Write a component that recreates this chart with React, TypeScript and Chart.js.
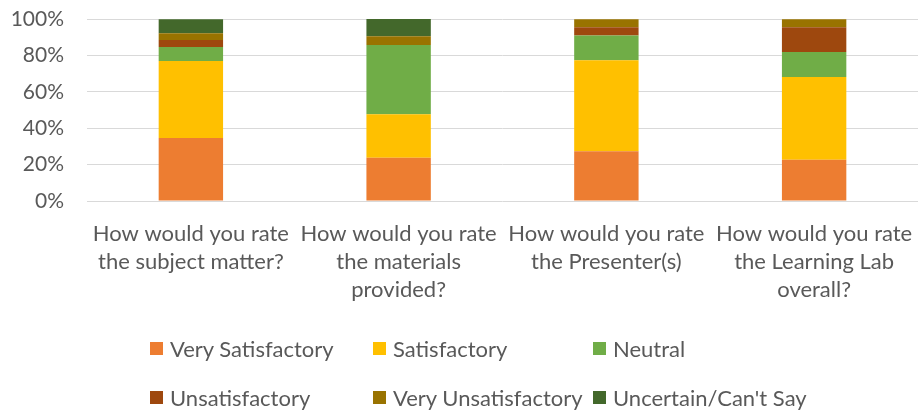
import React, { useEffect, useRef } from "react";
import { Chart, registerables } from "chart.js";

Chart.register(...registerables);

const categories: string[][] = [
  ["How would you rate", "the subject matter?"],
  ["How would you rate", "the materials", "provided?"],
  ["How would you rate", "the Presenter(s)"],
  ["How would you rate", "the Learning Lab", "overall?"],
];

const verySatisfactory = [34.6, 23.8, 27.3, 22.7];
const satisfactory = [42.3, 23.8, 50.0, 45.5];
const neutral = [7.7, 38.1, 13.6, 13.6];
const unsatisfactory = [3.8, 0, 4.5, 13.6];
const veryUnsatisfactory = [3.8, 4.8, 4.5, 4.5];
const uncertain = [7.7, 9.5, 0, 0];

const seriesNames = [
  "Very Satisfactory",
  "Satisfactory",
  "Neutral",
  "Unsatisfactory",
  "Very Unsatisfactory",
  "Uncertain/Can't Say",
];
const seriesColors = ["#ED7D31", "#FFC000", "#70AD47", "#9E480E", "#997300", "#43682B"];
const seriesValues = [verySatisfactory, satisfactory, neutral, unsatisfactory, veryUnsatisfactory, uncertain];

const yTicks = [0, 20, 40, 60, 80, 100];

const FONT = "Lato, 'Liberation Sans', sans-serif";
const TEXT = "#595959";

export default function App() {
  const ref = useRef<HTMLCanvasElement | null>(null);

  useEffect(() => {
    if (!ref.current) return;
    const chart = new Chart(ref.current, {
      type: "bar",
      data: {
        labels: categories as any,
        datasets: seriesNames.map((name, i) => ({
          label: name,
          data: seriesValues[i],
          backgroundColor: seriesColors[i],
          borderWidth: 0,
          categoryPercentage: 1,
          barPercentage: 0.31,
        })),
      },
      options: {
        animation: false,
        responsive: false,
        layout: { padding: { top: 19, right: 1, left: 0, bottom: 0 } },
        plugins: { legend: { display: false }, tooltip: { enabled: false } },
        scales: {
          x: {
            stacked: true,
            grid: { display: false, drawTicks: false },
            border: { display: false },
            ticks: {
              color: TEXT,
              font: { family: FONT, size: 22, lineHeight: 1.27 },
              maxRotation: 0,
              autoSkip: false,
              padding: 19,
            },
            afterFit: (s: any) => {
              s.height = 213;
              s.paddingLeft = 0;
              s.paddingRight = 0;
              s.paddingTop = 0;
              s.paddingBottom = 0;
            },
          },
          y: {
            stacked: true,
            min: 0,
            max: 100,
            afterBuildTicks: (s: any) => {
              s.ticks = yTicks.map((v) => ({ value: v }));
            },
            grid: { color: "#D9D9D9", lineWidth: 1, drawTicks: false },
            border: { display: false },
            ticks: {
              color: TEXT,
              font: { family: FONT, size: 21 },
              padding: 23,
              callback: (v: any) => v + "%",
            },
            afterFit: (s: any) => {
              s.width = 87;
              s.paddingTop = 0;
              s.paddingBottom = 0;
            },
          },
        },
      },
    });
    return () => chart.destroy();
  }, []);

  const legendPos = [
    { x: 150, y: 348 },
    { x: 373, y: 348 },
    { x: 593, y: 348 },
    { x: 150, y: 397 },
    { x: 373, y: 397 },
    { x: 593, y: 397 },
  ];

  return (
    <div style={{ position: "absolute", left: 0, top: 0, width: 919, height: 414, background: "#fff", overflow: "hidden" }}>
      <canvas ref={ref} width={919} height={414} style={{ width: 919, height: 414, display: "block" }} />
      {seriesNames.map((name, i) => (
        <div
          key={name}
          style={{
            position: "absolute",
            left: legendPos[i].x,
            top: legendPos[i].y - 14,
            height: 28,
            display: "flex",
            alignItems: "center",
            fontFamily: FONT,
            fontSize: 22,
            color: TEXT,
            whiteSpace: "nowrap",
          }}
        >
          <span style={{ display: "inline-block", width: 13, height: 13, background: seriesColors[i], marginRight: 7 }} />
          <span>{name}</span>
        </div>
      ))}
    </div>
  );
}
